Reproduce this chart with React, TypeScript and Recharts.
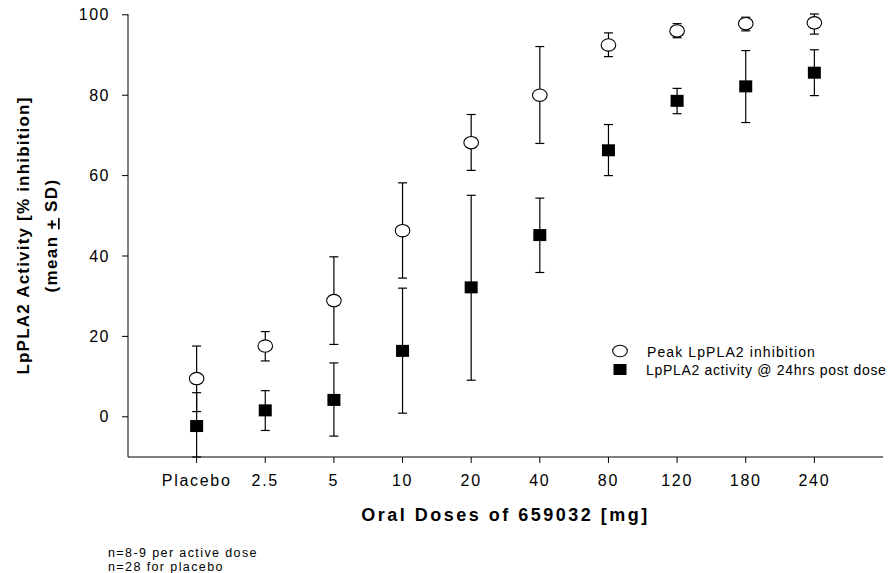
import React from 'react';
import { ScatterChart, Scatter, XAxis, YAxis, ErrorBar } from 'recharts';

const doses = ['Placebo', '2.5', '5', '10', '20', '40', '80', '120', '180', '240'];
const peakMean = [9.5, 17.6, 28.9, 46.3, 68.2, 80.0, 92.5, 96.0, 97.8, 98.0];
const peakLow = [1.3, 13.9, 18.0, 34.5, 61.3, 68.0, 89.6, 94.3, 96.0, 95.2];
const peakHigh = [17.6, 21.2, 39.8, 58.2, 75.2, 92.1, 95.5, 97.8, 99.4, 100.2];
const actMean = [-2.3, 1.6, 4.2, 16.4, 32.2, 45.2, 66.3, 78.6, 82.2, 85.6];
const actLow = [-10.0, -3.4, -4.8, 0.9, 9.1, 35.9, 60.0, 75.4, 73.2, 79.9];
const actHigh = [6.0, 6.5, 13.4, 32.0, 55.1, 54.4, 72.7, 81.7, 91.1, 91.3];
const yTicks = [0, 20, 40, 60, 80, 100];
const xTicks = [1, 2, 3, 4, 5, 6, 7, 8, 9, 10];

const peakData = doses.map((d, i) => ({
  x: i + 1,
  y: peakMean[i],
  err: [peakMean[i] - peakLow[i], peakHigh[i] - peakMean[i]],
}));
const actData = doses.map((d, i) => ({
  x: i + 1,
  y: actMean[i],
  err: [actMean[i] - actLow[i], actHigh[i] - actMean[i]],
}));

const FONT = '"Liberation Sans", Arial, sans-serif';

const CircleShape = (props: any) => {
  const { cx, cy } = props;
  return <ellipse cx={cx} cy={cy} rx={7.3} ry={6.2} fill="#fff" stroke="#000" strokeWidth={1.1} />;
};
const SquareShape = (props: any) => {
  const { cx, cy } = props;
  return <rect x={cx - 6.5} y={cy - 6} width={13} height={12} fill="#000" />;
};

const YTitle = (props: any) => {
  const vb = props.viewBox || { x: 68, y: 14, width: 60, height: 443 };
  const cy = vb.y + vb.height / 2;
  return (
    <g fontFamily={FONT} fontWeight="bold" fontSize={17} fill="#000">
      <text transform={`translate(29,${cy}) rotate(-90)`} textAnchor="middle" letterSpacing={1.2}>
        LpPLA2 Activity [% inhibition]
      </text>
      <text transform={`translate(57,${cy}) rotate(-90)`} textAnchor="middle" letterSpacing={1.4}>
        (mean <tspan style={{ textDecoration: 'underline' }}>+</tspan> SD)
      </text>
    </g>
  );
};

const XTitle = (props: any) => {
  const vb = props.viewBox || { x: 128, y: 457, width: 755, height: 30 };
  return (
    <text
      x={vb.x + vb.width / 2}
      y={vb.y + 64}
      textAnchor="middle"
      fontFamily={FONT}
      fontWeight="bold"
      fontSize={18}
      letterSpacing={2.5}
      fill="#000"
    >
      Oral Doses of 659032 [mg]
    </text>
  );
};

export default function App() {
  return (
    <div style={{ position: 'absolute', left: 0, top: 0, width: 890, height: 573, background: '#fff' }}>
      <ScatterChart
        width={890}
        height={573}
        margin={{ top: 14, right: 7, bottom: 86, left: 68 }}
      >
        <XAxis
          type="number"
          dataKey="x"
          domain={[0, 11]}
          ticks={xTicks}
          tickFormatter={(v: number) => doses[v - 1] ?? ''}
          height={30}
          tickSize={6}
          tickMargin={12}
          stroke="#000"
          axisLine={{ stroke: '#000' }}
          tickLine={{ stroke: '#000' }}
          tick={{ fill: '#000', fontSize: 16, fontFamily: FONT, letterSpacing: 1.7 }}
          interval={0}
          label={{ content: XTitle }}
        />
        <YAxis
          type="number"
          dataKey="y"
          domain={[-10, 100]}
          ticks={yTicks}
          width={60}
          tickSize={6}
          tickMargin={12}
          stroke="#000"
          axisLine={{ stroke: '#000' }}
          tickLine={{ stroke: '#000' }}
          tick={{ fill: '#000', fontSize: 16, fontFamily: FONT, letterSpacing: 1.5 }}
          interval={0}
          label={{ content: YTitle }}
        />
        <Scatter data={actData} shape={SquareShape} isAnimationActive={false}>
          <ErrorBar dataKey="err" direction="y" width={4.5} stroke="#000" strokeWidth={1.2} isAnimationActive={false} />
        </Scatter>
        <Scatter data={peakData} shape={CircleShape} isAnimationActive={false}>
          <ErrorBar dataKey="err" direction="y" width={4.5} stroke="#000" strokeWidth={1.2} isAnimationActive={false} />
        </Scatter>
      </ScatterChart>
      <svg
        width={890}
        height={573}
        style={{ position: 'absolute', left: 0, top: 0, pointerEvents: 'none' }}
      >
        <g fontFamily={FONT} fontSize={14} fill="#000">
          <ellipse cx={620} cy={351} rx={7.3} ry={5.8} fill="#fff" stroke="#000" strokeWidth={1.1} />
          <text x={647} y={356.5} letterSpacing={1.1}>Peak LpPLA2 inhibition</text>
          <rect x={613.5} y={364} width={13} height={11} fill="#000" />
          <text x={646} y={374.5} letterSpacing={0.68}>LpPLA2 activity @ 24hrs post dose</text>
        </g>
        <g fontFamily={FONT} fontSize={12.5} fill="#000" letterSpacing={1.4}>
          <text x={108} y={557}>n=8-9 per active dose</text>
          <text x={108} y={571}>n=28 for placebo</text>
        </g>
      </svg>
    </div>
  );
}
